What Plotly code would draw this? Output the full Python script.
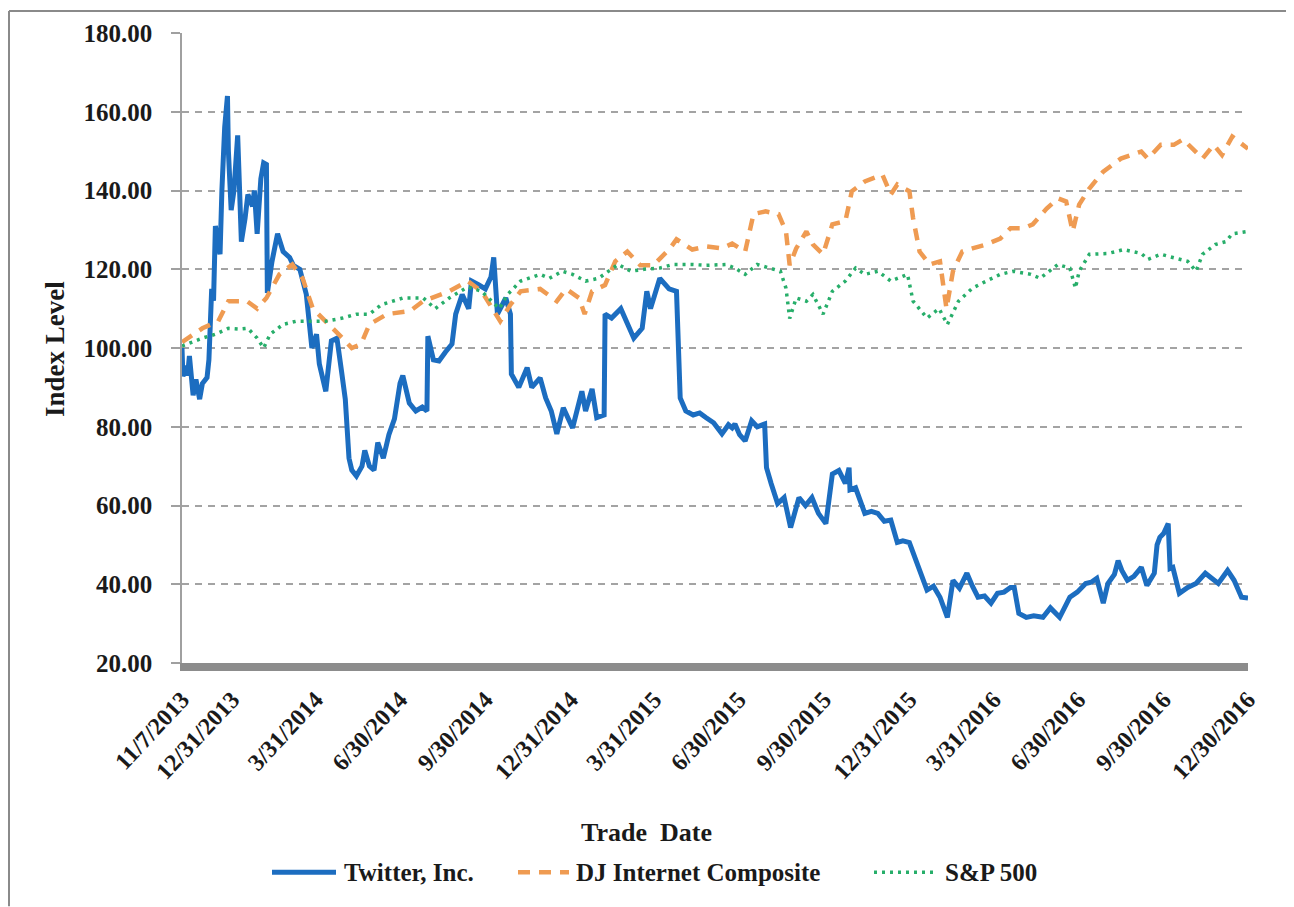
import plotly.graph_objects as go

# ---------------- data ----------------
twitter_dates = [
    "2013-11-07", "2013-11-08", "2013-11-11", "2013-11-13", "2013-11-15", "2013-11-19", "2013-11-22",
    "2013-11-26", "2013-11-29", "2013-12-04", "2013-12-06", "2013-12-09", "2013-12-11", "2013-12-13",
    "2013-12-16", "2013-12-18", "2013-12-20", "2013-12-23", "2013-12-26", "2013-12-27", "2013-12-30",
    "2014-01-02", "2014-01-06", "2014-01-08", "2014-01-10", "2014-01-14", "2014-01-17", "2014-01-22",
    "2014-01-24", "2014-01-27", "2014-01-31", "2014-02-03", "2014-02-06", "2014-02-07", "2014-02-12",
    "2014-02-18", "2014-02-24", "2014-03-03", "2014-03-07", "2014-03-14", "2014-03-21", "2014-03-27",
    "2014-04-01", "2014-04-04", "2014-04-11", "2014-04-17", "2014-04-23", "2014-04-28", "2014-05-02",
    "2014-05-06", "2014-05-09", "2014-05-14", "2014-05-20", "2014-05-23", "2014-05-28", "2014-06-02",
    "2014-06-06", "2014-06-12", "2014-06-18", "2014-06-24", "2014-06-30", "2014-07-03", "2014-07-10",
    "2014-07-17", "2014-07-24", "2014-07-29", "2014-07-30", "2014-08-05", "2014-08-11", "2014-08-18",
    "2014-08-25", "2014-08-29", "2014-09-05", "2014-09-12", "2014-09-15", "2014-09-23", "2014-09-30",
    "2014-10-06", "2014-10-09", "2014-10-13", "2014-10-22", "2014-10-27", "2014-10-28", "2014-11-05",
    "2014-11-14", "2014-11-19", "2014-11-28", "2014-12-04", "2014-12-10", "2014-12-16", "2014-12-23",
    "2015-01-02", "2015-01-12", "2015-01-16", "2015-01-23", "2015-01-28", "2015-02-05", "2015-02-06",
    "2015-02-13", "2015-02-23", "2015-03-02", "2015-03-09", "2015-03-18", "2015-03-23", "2015-03-27",
    "2015-04-06", "2015-04-16", "2015-04-24", "2015-04-28", "2015-05-04", "2015-05-12", "2015-05-19",
    "2015-05-26", "2015-06-03", "2015-06-12", "2015-06-19", "2015-06-23", "2015-06-26", "2015-07-01",
    "2015-07-07", "2015-07-14", "2015-07-20", "2015-07-28", "2015-07-30", "2015-08-04", "2015-08-11",
    "2015-08-18", "2015-08-25", "2015-09-03", "2015-09-10", "2015-09-17", "2015-09-24", "2015-10-02",
    "2015-10-09", "2015-10-16", "2015-10-23", "2015-10-27", "2015-10-28", "2015-11-03", "2015-11-13",
    "2015-11-20", "2015-11-27", "2015-12-04", "2015-12-11", "2015-12-18", "2015-12-24", "2015-12-31",
    "2016-01-06", "2016-01-11", "2016-01-19", "2016-01-26", "2016-02-02", "2016-02-10", "2016-02-16",
    "2016-02-23", "2016-03-02", "2016-03-08", "2016-03-14", "2016-03-21", "2016-03-28", "2016-04-04",
    "2016-04-11", "2016-04-18", "2016-04-22", "2016-04-27", "2016-05-05", "2016-05-13", "2016-05-23",
    "2016-05-31", "2016-06-10", "2016-06-21", "2016-06-29", "2016-07-08", "2016-07-14", "2016-07-20",
    "2016-07-27", "2016-08-01", "2016-08-08", "2016-08-12", "2016-08-16", "2016-08-22", "2016-08-29",
    "2016-09-06", "2016-09-12", "2016-09-20", "2016-09-23", "2016-09-26", "2016-09-30", "2016-10-05",
    "2016-10-07", "2016-10-10", "2016-10-17", "2016-10-26", "2016-11-04", "2016-11-14", "2016-11-21",
    "2016-11-28", "2016-12-08", "2016-12-15", "2016-12-23", "2016-12-30",
]
twitter_values = [
    100.0, 92.8, 95.5, 93.0, 98.0, 88.0, 92.0,
    87.0, 91.0, 92.5, 97.0, 115.0, 112.0, 131.0,
    126.0, 123.8, 140.0, 156.0, 164.0, 150.0, 135.0,
    140.0, 154.0, 140.0, 127.0, 133.0, 139.0, 136.0,
    140.0, 129.0, 143.0, 147.0, 146.6, 114.0, 122.0,
    129.0, 124.5, 123.0, 121.0, 120.0, 113.6, 100.0,
    103.5, 96.0, 89.0, 101.8, 102.5, 94.0, 87.0,
    72.0, 69.0, 67.5, 70.0, 74.0, 70.0, 69.0,
    76.0, 72.0, 78.0, 82.0, 91.0, 93.0, 86.0,
    84.0, 85.0, 84.0, 103.0, 97.0, 96.7, 99.0,
    101.0, 108.6, 113.6, 110.0, 117.0, 116.0, 115.0,
    118.0, 123.0, 108.6, 112.7, 108.6, 93.4, 90.0,
    95.0, 90.0, 92.4, 87.3, 84.0, 78.2, 84.8,
    79.7, 89.0, 84.0, 89.6, 82.3, 83.0, 108.6,
    107.6, 110.0, 106.0, 102.5, 105.0, 114.4, 110.0,
    117.7, 115.0, 114.4, 87.3, 84.0, 83.0, 83.5,
    82.3, 81.0, 78.2, 80.5, 79.7, 80.7, 78.0,
    76.4, 81.5, 80.0, 80.7, 69.6, 65.6, 60.5,
    62.0, 54.4, 62.0, 60.0, 62.0, 58.0, 55.4,
    68.0, 68.9, 65.6, 69.6, 64.0, 64.5, 58.0,
    58.5, 58.0, 56.0, 56.3, 50.6, 51.0, 50.6,
    47.0, 43.5, 38.5, 39.5, 36.7, 31.6, 41.0,
    39.0, 42.8, 39.5, 36.7, 37.0, 35.2, 37.7,
    38.0, 39.2, 39.2, 32.6, 31.6, 32.0, 31.6,
    34.0, 31.6, 36.7, 38.0, 40.2, 40.5, 41.5,
    35.2, 40.2, 42.5, 46.0, 43.5, 41.0, 42.0,
    44.3, 39.7, 42.8, 50.0, 51.9, 52.9, 55.4,
    44.0, 44.3, 37.7, 39.2, 40.2, 42.8, 41.5,
    40.2, 43.5, 41.0, 36.7, 36.5,
]

dj_dates = [
    "2013-11-07", "2013-11-29", "2013-12-16", "2013-12-27", "2014-01-16", "2014-01-27", "2014-02-06",
    "2014-02-20", "2014-03-06", "2014-03-17", "2014-03-28", "2014-04-11", "2014-04-29", "2014-05-09",
    "2014-05-19", "2014-05-28", "2014-06-16", "2014-07-11", "2014-07-25", "2014-08-22", "2014-09-11",
    "2014-09-26", "2014-10-16", "2014-10-27", "2014-11-07", "2014-11-28", "2014-12-16", "2014-12-26",
    "2015-01-09", "2015-01-15", "2015-01-23", "2015-02-06", "2015-02-17", "2015-03-02", "2015-03-16",
    "2015-03-30", "2015-04-17", "2015-04-24", "2015-05-11", "2015-05-26", "2015-06-12", "2015-06-23",
    "2015-07-07", "2015-07-16", "2015-07-29", "2015-08-12", "2015-08-20", "2015-08-24", "2015-08-31",
    "2015-09-11", "2015-09-18", "2015-09-29", "2015-10-09", "2015-10-23", "2015-10-30", "2015-11-13",
    "2015-12-02", "2015-12-11", "2015-12-18", "2015-12-31", "2016-01-04", "2016-01-11", "2016-01-22",
    "2016-02-02", "2016-02-09", "2016-02-16", "2016-02-26", "2016-03-08", "2016-03-23", "2016-04-07",
    "2016-04-18", "2016-05-02", "2016-05-12", "2016-05-27", "2016-06-08", "2016-06-17", "2016-06-24",
    "2016-07-01", "2016-07-12", "2016-07-27", "2016-08-15", "2016-09-06", "2016-09-13", "2016-09-27",
    "2016-10-11", "2016-10-21", "2016-11-01", "2016-11-11", "2016-11-23", "2016-12-02", "2016-12-13",
    "2016-12-30",
]
dj_values = [
    101.5, 105.0, 106.8, 111.9, 111.9, 110.0, 112.7,
    118.7, 121.2, 117.7, 110.0, 106.8, 102.5, 100.0,
    101.0, 106.0, 108.6, 109.4, 111.9, 114.4, 117.0,
    114.4, 106.8, 111.0, 114.4, 115.0, 111.9, 115.0,
    112.7, 108.6, 114.4, 116.0, 122.0, 124.5, 121.0,
    121.0, 125.3, 127.6, 125.0, 125.8, 125.3, 126.5,
    124.5, 134.0, 134.7, 134.0, 129.6, 121.0, 125.3,
    129.6, 126.3, 123.8, 131.4, 132.2, 139.8, 142.3,
    144.0, 139.0, 141.5, 139.8, 133.0, 124.5, 121.2,
    122.0, 110.0, 119.5, 124.5, 125.3, 126.3, 127.8,
    130.4, 130.4, 131.4, 135.4, 138.0, 137.2, 129.6,
    136.4, 140.5, 144.8, 148.1, 149.9, 148.1, 151.6,
    151.6, 153.0, 150.6, 148.1, 151.6, 149.0, 153.7,
    150.6,
]

sp_dates = [
    "2013-11-07", "2013-11-29", "2013-12-13", "2013-12-27", "2014-01-08", "2014-01-17", "2014-01-27",
    "2014-02-03", "2014-02-10", "2014-02-24", "2014-03-10", "2014-03-25", "2014-04-11", "2014-04-29",
    "2014-05-14", "2014-05-28", "2014-06-10", "2014-07-03", "2014-07-25", "2014-08-07", "2014-08-22",
    "2014-09-11", "2014-09-26", "2014-10-15", "2014-10-24", "2014-11-07", "2014-11-28", "2014-12-08",
    "2014-12-22", "2015-01-02", "2015-01-16", "2015-01-30", "2015-02-10", "2015-02-20", "2015-03-06",
    "2015-03-20", "2015-04-06", "2015-04-20", "2015-05-11", "2015-05-26", "2015-06-16", "2015-06-26",
    "2015-07-07", "2015-07-20", "2015-08-14", "2015-08-20", "2015-08-24", "2015-08-31", "2015-09-11",
    "2015-09-18", "2015-09-29", "2015-10-09", "2015-10-23", "2015-11-03", "2015-11-13", "2015-11-27",
    "2015-12-11", "2015-12-29", "2016-01-04", "2016-01-19", "2016-02-01", "2016-02-10", "2016-02-22",
    "2016-03-08", "2016-03-23", "2016-04-07", "2016-04-21", "2016-05-10", "2016-05-20", "2016-06-08",
    "2016-06-21", "2016-06-27", "2016-07-01", "2016-07-12", "2016-08-01", "2016-08-18", "2016-09-06",
    "2016-09-13", "2016-09-27", "2016-10-11", "2016-10-26", "2016-11-04", "2016-11-11", "2016-11-25",
    "2016-12-06", "2016-12-13", "2016-12-30",
]
sp_values = [
    100.5, 102.5, 103.5, 105.0, 104.8, 105.0, 102.5,
    100.0, 103.5, 106.0, 106.8, 106.8, 106.8, 107.6,
    108.6, 108.6, 111.0, 112.7, 112.7, 110.0, 112.7,
    115.5, 114.4, 110.0, 113.6, 117.0, 118.7, 117.7,
    119.5, 118.7, 117.0, 117.7, 119.5, 121.2, 119.5,
    120.0, 120.3, 121.2, 121.2, 121.0, 121.2, 120.3,
    118.7, 121.2, 119.5, 115.2, 107.5, 112.7, 111.9,
    113.6, 108.6, 114.4, 117.0, 120.3, 118.7, 119.5,
    117.0, 118.7, 111.9, 107.6, 110.0, 106.0, 111.9,
    115.2, 117.0, 118.7, 119.5, 118.7, 117.7, 121.2,
    120.3, 115.2, 119.5, 123.8, 124.0, 125.0, 124.0,
    122.5, 123.8, 123.0, 122.0, 119.5, 123.8, 126.3,
    127.0, 129.0, 129.6,
]

tick_dates = ["2013-11-07", "2013-12-31", "2014-03-31", "2014-06-30", "2014-09-30", "2014-12-31",
              "2015-03-31", "2015-06-30", "2015-09-30", "2015-12-31", "2016-03-31", "2016-06-30",
              "2016-09-30", "2016-12-30"]
tick_labels = ["11/7/2013", "12/31/2013", "3/31/2014", "6/30/2014", "9/30/2014", "12/31/2014",
               "3/31/2015", "6/30/2015", "9/30/2015", "12/31/2015", "3/31/2016", "6/30/2016",
               "9/30/2016", "12/30/2016"]
y_ticks = [20, 40, 60, 80, 100, 120, 140, 160, 180]

series_names = ["Twitter, Inc.", "DJ Internet Composite", "S&P 500"]
series_colors = ["#1C6DC0", "#EF9B52", "#27AE6A"]
series_widths = [5, 4.5, 3.5]
series_dashes = ["solid", "12px,9px", "3px,5px"]

# ---------------- figure ----------------
FONT = "Liberation Serif, Times New Roman, serif"
TXT = "#1a1a1a"

fig = go.Figure()
for name, xs, ys, col, w, d in zip(series_names, [twitter_dates, dj_dates, sp_dates],
                                   [twitter_values, dj_values, sp_values],
                                   series_colors, series_widths, series_dashes):
    fig.add_trace(go.Scatter(x=xs, y=ys, mode="lines", name=name,
                             line=dict(color=col, width=w, dash=d)))

# page has an 8px body margin, so the figure is 8px smaller than the window
W, H = 1286, 899
L, R, T, B = 174, 46, 23, 244
PAGE_L, PAGE_T = L + 8, T + 8
pw, ph = W - L - R, H - T - B
PAGE_B = PAGE_T + ph

def px_x(p):
    return (p - PAGE_L) / pw

def px_y(p):
    return (PAGE_B - p) / ph

# legend (drawn by hand so the samples have the reference's length)
leg_y = px_y(873)
leg_samples = [(272, 336), (518, 569), (874, 934)]
leg_text_x = [342, 574, 943]
shapes = []
annotations = []
for (a, b), tx, name, col, w, d in zip(leg_samples, leg_text_x, series_names,
                                       series_colors, series_widths, series_dashes):
    shapes.append(dict(type="line", xref="paper", yref="paper", x0=px_x(a), x1=px_x(b),
                       y0=leg_y, y1=leg_y, line=dict(color=col, width=w, dash=d)))
    annotations.append(dict(text=name, x=px_x(tx), y=leg_y, xref="paper", yref="paper",
                            showarrow=False, xanchor="left", yanchor="middle",
                            font=dict(family=FONT, size=25, color=TXT, weight="bold")))

annotations += [
    dict(text="Index Level", x=px_x(55), y=px_y(348), xref="paper", yref="paper",
         showarrow=False, textangle=-90, xanchor="center", yanchor="middle",
         font=dict(family=FONT, size=27, color=TXT, weight="bold")),
    dict(text="Trade  Date", x=px_x(646), y=px_y(833), xref="paper", yref="paper",
         showarrow=False, xanchor="center", yanchor="middle",
         font=dict(family=FONT, size=26, color=TXT, weight="bold")),
]

shapes += [
    dict(type="line", xref="paper", yref="paper", x0=px_x(9), x1=px_x(1293), y0=px_y(9), y1=px_y(9),
         line=dict(color="#8a8a8a", width=2)),
    dict(type="line", xref="paper", yref="paper", x0=px_x(9), x1=px_x(9), y0=px_y(9), y1=px_y(907),
         line=dict(color="#8a8a8a", width=2)),
    dict(type="line", xref="paper", yref="paper", x0=px_x(1292), x1=px_x(1292), y0=px_y(9), y1=px_y(907),
         line=dict(color="#e2e2e2", width=1.5)),
]

fig.update_layout(
    width=W, height=H,
    margin=dict(l=L, r=R, t=T, b=B),
    paper_bgcolor="white", plot_bgcolor="white",
    font=dict(family=FONT, color=TXT, size=24, weight="bold"),
    showlegend=False,
    xaxis=dict(
        type="date", range=["2013-11-07", "2016-12-30"],
        tickmode="array", tickvals=tick_dates, ticktext=tick_labels,
        tickangle=-47, ticks="", showgrid=False,
        showline=True, linecolor="#8c8c8c", linewidth=8,
        tickfont=dict(family=FONT, size=24, color=TXT, weight="bold"),
        ticklabelstandoff=5,
        zeroline=False,
    ),
    yaxis=dict(
        range=[20, 180], tickmode="array", tickvals=y_ticks, tickformat=".2f",
        showgrid=True, gridcolor="#a3a3a3", gridwidth=1.5, griddash="7px,6px",
        showline=True, linecolor="#a0a0a0", linewidth=1.5,
        ticks="outside", ticklen=9, tickcolor="#a0a0a0", tickwidth=1.5,
        ticklabelstandoff=14,
        tickfont=dict(family=FONT, size=25, color=TXT, weight="bold"),
        zeroline=False,
    ),
    annotations=annotations,
    shapes=shapes,
)

fig.write_html("out.html")
